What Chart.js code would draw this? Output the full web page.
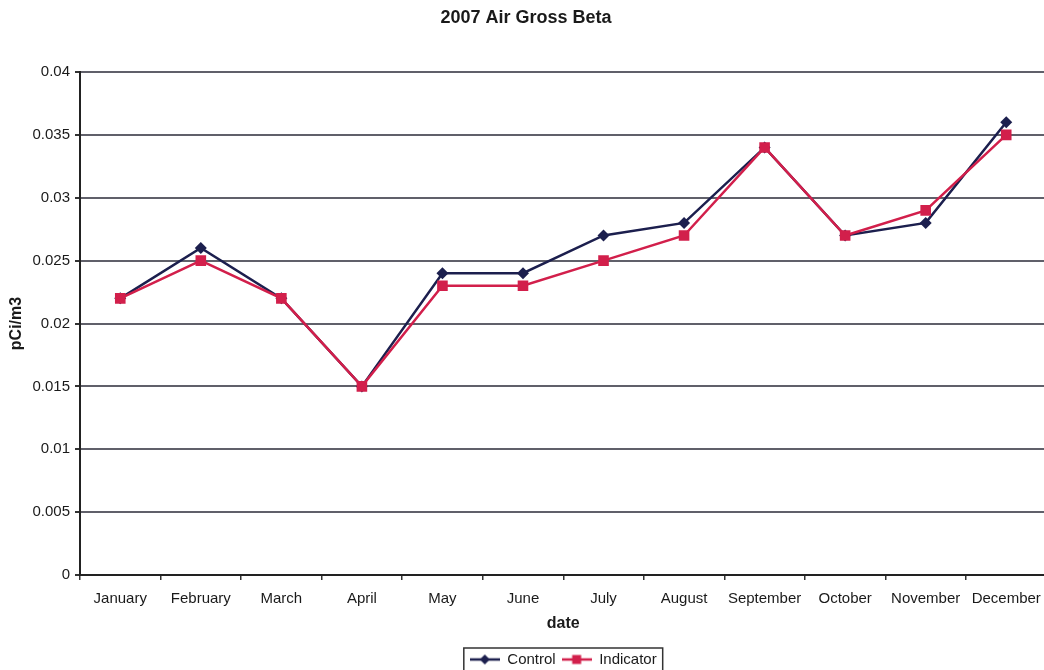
<!DOCTYPE html>
<html>
<head>
<meta charset="utf-8">
<script src="https://cdn.jsdelivr.net/npm/chart.js@4.4.0/dist/chart.umd.min.js"></script>
<style>
html,body{margin:0;padding:0;background:#fff;overflow:hidden;width:1044px;height:670px;}
canvas{display:block;}
</style>
</head>
<body>
<canvas id="c" width="1054" height="677" style="width:1054px;height:677px"></canvas>
<script>
const categories = ['January','February','March','April','May','June','July','August','September','October','November','December'];
const controlValues = [0.022,0.026,0.022,0.015,0.024,0.024,0.027,0.028,0.034,0.027,0.028,0.036];
const indicatorValues = [0.022,0.025,0.022,0.015,0.023,0.023,0.025,0.027,0.034,0.027,0.029,0.035];
const yTickLabels = ['0','0.005','0.01','0.015','0.02','0.025','0.03','0.035','0.04'];
const seriesNames = ['Control','Indicator'];
const chartTitle = '2007 Air Gross Beta';
const xTitle = 'date';
const yTitle = 'pCi/m3';

const CONTROL_COLOR = '#1c1f4e';
const INDICATOR_COLOR = '#d21f4b';
const FONT = "'Liberation Sans', Arial, sans-serif";
const TEXT = '#1a1a1a';

function legendIcon(color, shape){
  const c = document.createElement('canvas');
  c.width = 30; c.height = 12;
  const x = c.getContext('2d');
  x.strokeStyle = color; x.lineWidth = 2.5;
  x.beginPath(); x.moveTo(0,6); x.lineTo(30,6); x.stroke();
  x.fillStyle = color;
  x.beginPath();
  if (shape === 'diamond'){
    x.moveTo(15,1); x.lineTo(20,6); x.lineTo(15,11); x.lineTo(10,6); x.closePath();
  } else {
    x.rect(10.5,1.5,9,9);
  }
  x.fill();
  return c;
}
const icons = [legendIcon(CONTROL_COLOR,'diamond'), legendIcon(INDICATOR_COLOR,'square')];

const legendBorder = {
  id: 'legendBorder',
  afterDraw(chart){
    const lg = chart.legend;
    if (!lg || !lg.legendHitBoxes || !lg.legendHitBoxes.length) return;
    const hb = lg.legendHitBoxes;
    let l = Infinity, r = -Infinity, t = Infinity, b = -Infinity;
    hb.forEach(h => { l = Math.min(l, h.left); r = Math.max(r, h.left + h.width); t = Math.min(t, h.top); b = Math.max(b, h.top + h.height); });
    const ctx = chart.ctx;
    ctx.save();
    ctx.strokeStyle = '#333';
    ctx.lineWidth = 1.5;
    ctx.strokeRect(l - 6, t - 4, (r - l) + 12, (b - t) + 12);
    ctx.restore();
  }
};

new Chart(document.getElementById('c'), {
  type: 'line',
  data: {
    labels: categories,
    datasets: [
      {
        label: seriesNames[0], data: controlValues,
        borderColor: CONTROL_COLOR, backgroundColor: CONTROL_COLOR,
        borderWidth: 2.5, tension: 0,
        pointStyle: 'rectRot', pointRadius: 6, pointHoverRadius: 6,
        pointBorderWidth: 0, order: 1
      },
      {
        label: seriesNames[1], data: indicatorValues,
        borderColor: INDICATOR_COLOR, backgroundColor: INDICATOR_COLOR,
        borderWidth: 2.5, tension: 0,
        pointStyle: 'rect', pointRadius: 7.5, pointHoverRadius: 7.5,
        pointBorderWidth: 0, order: 0
      }
    ]
  },
  options: {
    responsive: false,
    animation: false,
    events: [],
    layout: { padding: { left: 0, right: 2, top: 0, bottom: 0 } },
    plugins: {
      title: {
        display: true, text: chartTitle, color: TEXT,
        font: { family: FONT, size: 18, weight: 'bold' },
        padding: { top: 7, bottom: 43.4 }
      },
      legend: {
        display: true, position: 'bottom', fullSize: false,
        labels: {
          color: TEXT, font: { family: FONT, size: 15 },
          usePointStyle: true, pointStyleWidth: 30, boxHeight: 12,
          padding: 6,
          sort: (a, b) => a.datasetIndex - b.datasetIndex,
          generateLabels(chart){
            const items = Chart.defaults.plugins.legend.labels.generateLabels(chart);
            items.forEach(it => { it.pointStyle = icons[it.datasetIndex]; });
            return items;
          }
        }
      },
      tooltip: { enabled: false }
    },
    scales: {
      x: {
        offset: true,
        afterFit(s){ s.height = 71; },
        grid: { display: true, drawOnChartArea: false, drawTicks: true, tickLength: 5, offset: true, color: '#333', lineWidth: 1.5 },
        border: { display: true, color: '#222', width: 2 },
        ticks: { color: TEXT, font: { family: FONT, size: 15 }, padding: 10, maxRotation: 0, autoSkip: false },
        title: { display: true, text: xTitle, color: TEXT, font: { family: FONT, size: 16, weight: 'bold' }, padding: { top: 0, bottom: 12.4 } }
      },
      y: {
        min: 0, max: 0.04,
        afterFit(s){ s.width = 80; },
        ticks: {
          stepSize: 0.005, color: TEXT, font: { family: FONT, size: 15 }, padding: 5,
          callback: (v, i) => yTickLabels[i]
        },
        grid: { color: '#60606a', lineWidth: 2, drawTicks: true, tickLength: 5, tickColor: '#333' },
        border: { display: true, color: '#222', width: 2 },
        title: { display: true, text: yTitle, color: TEXT, font: { family: FONT, size: 16, weight: 'bold' }, padding: { top: 7, bottom: 0 } }
      }
    }
  },
  plugins: [legendBorder]
});
</script>
</body>
</html>
